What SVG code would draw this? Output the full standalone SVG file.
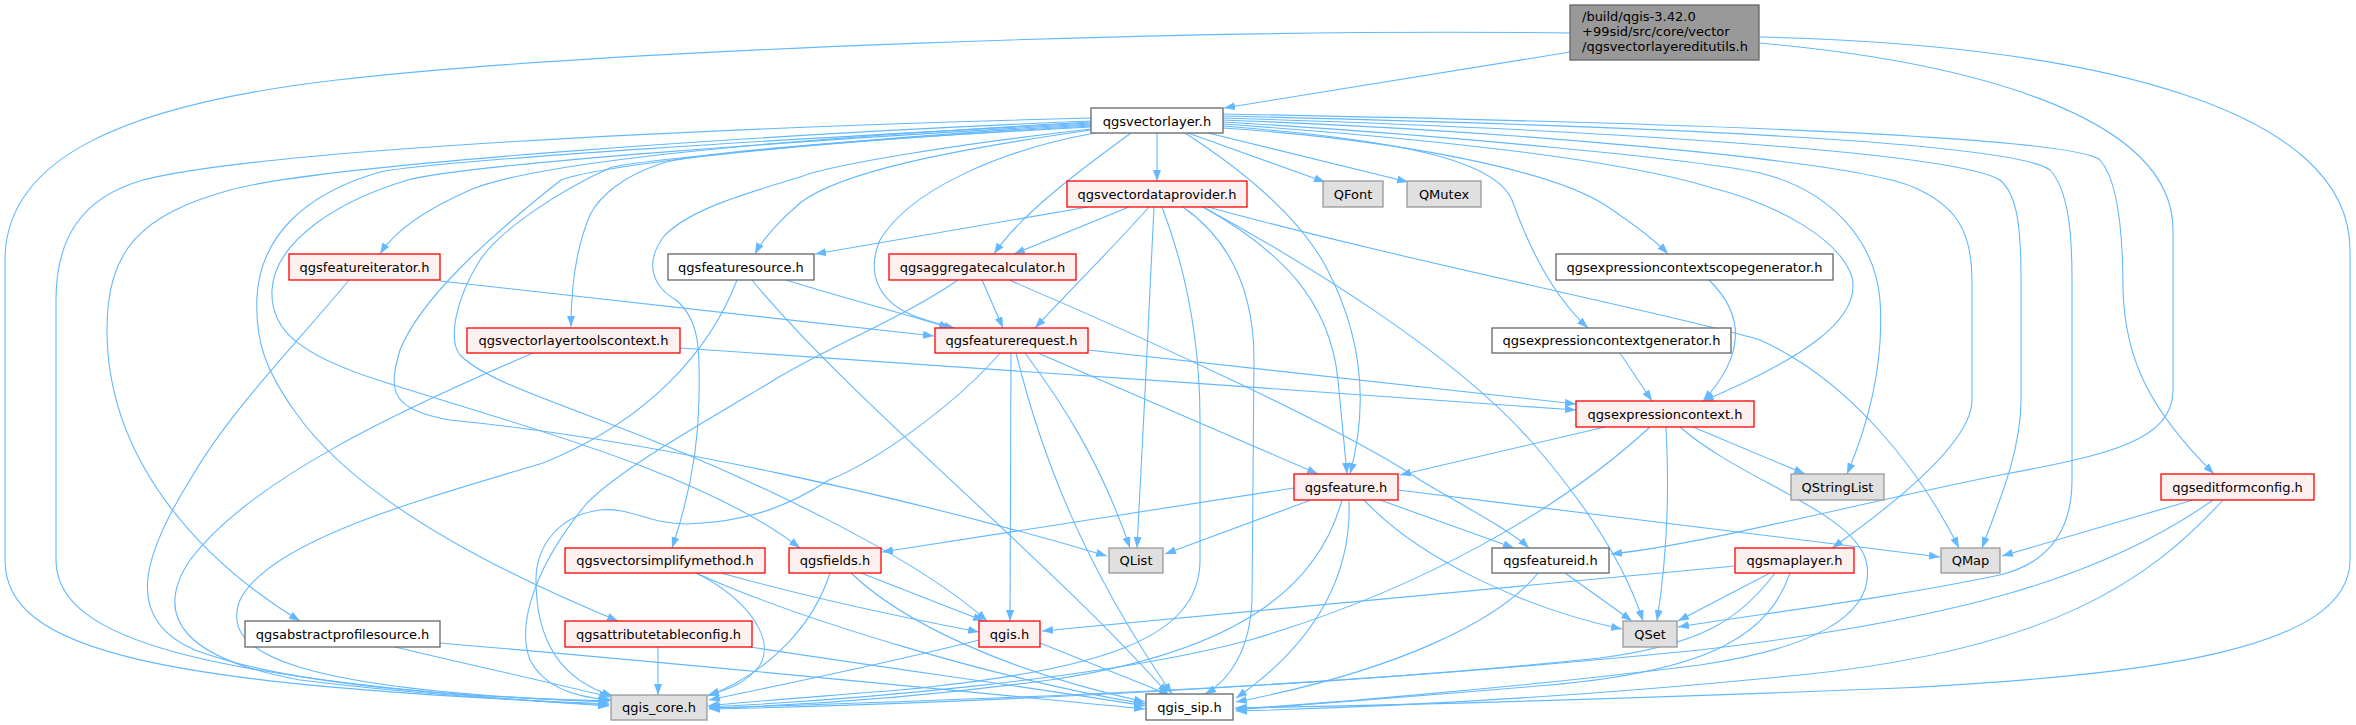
<svg xmlns="http://www.w3.org/2000/svg" width="2356" height="725" viewBox="0 0 2356 725">
<defs>
<marker id="arr" viewBox="0 0 11 8" refX="11" refY="4" markerWidth="11" markerHeight="8" orient="auto" markerUnits="userSpaceOnUse">
<path d="M0,0 L11,4 L0,8 z" fill="#63b8ff"/>
</marker>
</defs>
<style>
.e{fill:none;stroke:#63b8ff;stroke-width:1.1;marker-end:url(#arr)}
rect{stroke-width:1.3}
.red rect{fill:#fff0f0;stroke:#ff0000}
.ext rect{fill:#e0e0e0;stroke:#999999}
.std rect{fill:#ffffff;stroke:#666666}
.root rect{fill:#999999;stroke:#666666}
text{font-family:"DejaVu Sans","Liberation Sans",sans-serif;font-size:13px;fill:#000000}
.c text{text-anchor:middle}
</style>
<rect x="0" y="0" width="2356" height="725" fill="#ffffff" stroke="none"/>
<g id="edges">
<path class="e" d="M1570,52 L1224,108"/>
<path class="e" d="M1570,33 C1200,28 600,50 337,80 C120,105 5,160 5,260 L5,560 C5,650 150,685 609,704"/>
<path class="e" d="M1759,43 C1950,60 2173,110 2173,230 L2173,390 C2173,440 2110,455 2000,475 C1850,505 1700,545 1611,554"/>
<path class="e" d="M1759,37 C2100,45 2350,110 2350,250 L2350,560 C2350,650 2150,675 1900,688 C1600,700 1350,706 1235,708"/>
<path class="e" d="M1091,118 C700,128 260,150 143,180 C80,198 56,240 56,300 L56,560 C56,640 200,680 609,706"/>
<path class="e" d="M1091,121 C750,135 320,165 230,190 C140,215 107,250 107,330 C107,460 200,560 300,621"/>
<path class="e" d="M1091,122 C800,138 540,160 470,190 C420,212 392,235 380,254"/>
<path class="e" d="M1091,123 C800,138 440,160 380,172 C300,195 260,240 257,297 C255,340 265,370 296,413 C350,490 470,560 618,621"/>
<path class="e" d="M1091,124 C800,140 460,165 408,180 C340,200 275,240 272,290 C270,330 300,355 378,380 C500,420 700,470 800,548"/>
<path class="e" d="M1091,125 C820,140 600,165 561,180 C485,240 420,300 400,350 C388,390 390,410 450,420 C650,440 900,495 1107,556"/>
<path class="e" d="M1091,126 C850,140 660,158 612,167 C560,190 500,230 480,260 C455,300 448,340 460,355 C480,375 520,390 600,420 C760,480 920,560 987,621"/>
<path class="e" d="M1091,127 C850,140 700,152 663,163 C625,175 600,195 590,215 C575,250 571,290 571,327"/>
<path class="e" d="M1091,129 C950,145 830,165 800,177 C740,195 690,210 665,235 C645,260 650,285 676,300 C700,320 700,350 699,400 C698,460 685,510 672,548"/>
<path class="e" d="M1091,130 C950,150 840,172 800,203 C780,220 762,240 755,254"/>
<path class="e" d="M1095,133 C1000,150 910,190 880,240 C865,275 880,305 920,318 C935,323 945,326 955,328"/>
<path class="e" d="M1131,133 C1080,170 1020,215 994,254"/>
<path class="e" d="M1157,133 L1157,181"/>
<path class="e" d="M1188,133 L1325,182"/>
<path class="e" d="M1208,133 L1408,182"/>
<path class="e" d="M1185,133 C1250,175 1300,220 1325,265 C1360,330 1370,400 1350,474"/>
<path class="e" d="M1223,128 C1400,140 1550,170 1605,205 C1635,225 1655,240 1668,254"/>
<path class="e" d="M1223,126 C1400,140 1495,160 1512,200 C1528,245 1552,295 1588,328"/>
<path class="e" d="M1223,124 C1450,140 1620,160 1709,187 C1780,205 1840,240 1852,277 C1862,320 1800,360 1703,401"/>
<path class="e" d="M1223,122 C1450,135 1700,160 1760,173 C1830,190 1875,240 1880,300 C1884,360 1870,420 1847,474"/>
<path class="e" d="M1223,120 C1500,130 1850,160 1913,187 C1955,205 1972,230 1972,280 L1972,400 C1972,440 1900,500 1832,548"/>
<path class="e" d="M1223,118 C1550,128 1950,150 2000,180 C2018,195 2021,230 2021,280 L2021,400 C2021,450 2000,500 1982,548"/>
<path class="e" d="M1223,116 C1600,125 2010,140 2050,170 C2068,190 2072,230 2072,280 L2072,480 C2072,540 2040,565 2000,575 C1880,600 1750,615 1678,627"/>
<path class="e" d="M1223,114 C1650,122 2070,135 2100,160 C2118,180 2123,230 2123,290 C2125,360 2150,410 2214,474"/>
<path class="e" d="M1088,207 L815,254"/>
<path class="e" d="M1129,207 L1014,254"/>
<path class="e" d="M1149,207 C1120,240 1080,280 1035,328"/>
<path class="e" d="M1154,207 C1150,300 1142,450 1137,548"/>
<path class="e" d="M1162,207 C1190,280 1200,350 1200,420 L1200,560 C1200,640 1100,670 900,690 C800,698 730,703 708,706"/>
<path class="e" d="M1183,207 C1230,240 1254,290 1254,360 L1252,600 C1250,650 1230,680 1205,694"/>
<path class="e" d="M1203,207 C1280,250 1330,300 1338,380 C1342,420 1345,450 1347,474"/>
<path class="e" d="M1203,207 C1300,260 1450,350 1530,440 C1600,520 1630,580 1643,621"/>
<path class="e" d="M1208,207 C1400,260 1700,320 1760,340 C1850,380 1920,470 1959,548"/>
<path class="e" d="M982,280 L1003,328"/>
<path class="e" d="M958,280 C900,320 820,350 766,385 C690,430 620,470 587,503 C540,560 515,620 530,660 C545,690 580,698 612,700"/>
<path class="e" d="M1009,280 C1150,340 1346,430 1420,480 C1470,510 1510,530 1529,548"/>
<path class="e" d="M1088,350 L1576,404"/>
<path class="e" d="M1038,353 L1318,474"/>
<path class="e" d="M1025,353 C1060,400 1100,460 1130,548"/>
<path class="e" d="M1011,353 L1010,621"/>
<path class="e" d="M1016,353 C1040,450 1080,560 1172,694"/>
<path class="e" d="M1000,353 C960,400 880,460 829,480 C790,505 750,522 686,524 C650,524 630,507 600,510 C560,515 536,545 536,580 C536,640 560,680 613,696"/>
<path class="e" d="M1605,427 L1400,475"/>
<path class="e" d="M1693,427 L1805,474"/>
<path class="e" d="M1666,427 C1670,500 1665,570 1657,621"/>
<path class="e" d="M1680,427 C1740,480 1850,510 1866,560 C1880,620 1800,650 1700,665 C1500,690 1300,705 1236,709"/>
<path class="e" d="M1650,427 C1560,510 1420,590 1250,640 C1100,680 850,700 709,707"/>
<path class="e" d="M1294,488 L882,552"/>
<path class="e" d="M1311,500 L1165,554"/>
<path class="e" d="M1380,500 L1514,548"/>
<path class="e" d="M1398,490 L1940,557"/>
<path class="e" d="M1364,500 C1420,560 1530,610 1622,629"/>
<path class="e" d="M1342,500 C1320,580 1250,650 1050,680 C900,700 780,706 709,708"/>
<path class="e" d="M1349,500 C1352,570 1320,640 1236,698"/>
<path class="e" d="M680,348 C900,363 1300,390 1576,410"/>
<path class="e" d="M533,353 C400,410 250,480 190,560 C150,620 190,660 300,680 C420,695 520,700 609,705"/>
<path class="e" d="M349,280 C300,340 230,410 190,480 C140,560 125,620 195,650 C300,690 500,698 609,701"/>
<path class="e" d="M440,281 L934,336"/>
<path class="e" d="M786,280 C850,300 920,318 950,328"/>
<path class="e" d="M752,280 C850,400 1050,560 1168,694"/>
<path class="e" d="M737,280 C710,350 650,420 543,463 C420,500 270,540 240,600 C220,650 280,690 609,702"/>
<path class="e" d="M2193,500 L2002,556"/>
<path class="e" d="M2213,500 C2100,580 1950,620 1700,650 C1300,690 900,705 709,709"/>
<path class="e" d="M2223,500 C2150,580 2050,650 1800,675 C1550,700 1350,708 1236,711"/>
<path class="e" d="M1735,566 L1042,631"/>
<path class="e" d="M1770,573 L1678,621"/>
<path class="e" d="M1775,573 C1740,620 1700,645 1600,658 C1300,690 900,702 709,708"/>
<path class="e" d="M1790,573 C1770,630 1720,670 1550,685 C1400,698 1300,705 1236,710"/>
<path class="e" d="M1565,573 L1632,621"/>
<path class="e" d="M1538,573 C1500,620 1400,670 1236,702"/>
<path class="e" d="M979,640 C880,665 780,685 709,700"/>
<path class="e" d="M1040,643 L1170,695"/>
<path class="e" d="M861,573 L984,621"/>
<path class="e" d="M851,573 C900,620 1000,670 1145,702"/>
<path class="e" d="M830,573 C815,620 775,670 708,696"/>
<path class="e" d="M721,573 C800,595 900,617 979,632"/>
<path class="e" d="M696,573 C800,620 1000,680 1145,704"/>
<path class="e" d="M696,573 C750,600 775,640 760,665 C745,685 725,690 708,695"/>
<path class="e" d="M658,647 L658,695"/>
<path class="e" d="M750,647 C900,670 1050,690 1145,706"/>
<path class="e" d="M395,647 C470,665 540,680 610,697"/>
<path class="e" d="M440,643 C700,665 1000,695 1145,709"/>
<path class="e" d="M1709,280 C1740,310 1750,350 1703,401"/>
<path class="e" d="M1620,353 L1652,401"/>
</g>
<g id="node-root" class="root"><rect x="1570" y="5" width="189" height="55"/><text x="1582" y="21">/build/qgis-3.42.0</text><text x="1582" y="36">+99sid/src/core/vector</text><text x="1582" y="51">/qgsvectorlayereditutils.h</text></g>
<g id="node-qgsvectorlayer" class="std c"><rect x="1091" y="108" width="132" height="25"/><text x="1157" y="125.5">qgsvectorlayer.h</text></g>
<g id="node-qgsvectordataprovider" class="red c"><rect x="1067" y="181" width="180" height="26"/><text x="1157" y="198.5">qgsvectordataprovider.h</text></g>
<g id="node-QFont" class="ext c"><rect x="1323" y="181" width="60" height="26"/><text x="1353" y="198.5">QFont</text></g>
<g id="node-QMutex" class="ext c"><rect x="1407" y="181" width="74" height="26"/><text x="1444" y="198.5">QMutex</text></g>
<g id="node-qgsfeatureiterator" class="red c"><rect x="289" y="254" width="151" height="26"/><text x="364.5" y="271.5">qgsfeatureiterator.h</text></g>
<g id="node-qgsfeaturesource" class="std c"><rect x="668" y="254" width="146" height="26"/><text x="741" y="271.5">qgsfeaturesource.h</text></g>
<g id="node-qgsaggregatecalculator" class="red c"><rect x="889" y="254" width="187" height="26"/><text x="982.5" y="271.5">qgsaggregatecalculator.h</text></g>
<g id="node-qgsexpressioncontextscopegenerator" class="std c"><rect x="1556" y="254" width="277" height="26"/><text x="1694.5" y="271.5">qgsexpressioncontextscopegenerator.h</text></g>
<g id="node-qgsvectorlayertoolscontext" class="red c"><rect x="467" y="328" width="213" height="25"/><text x="573.5" y="345">qgsvectorlayertoolscontext.h</text></g>
<g id="node-qgsfeaturerequest" class="red c"><rect x="935" y="328" width="153" height="25"/><text x="1011.5" y="345">qgsfeaturerequest.h</text></g>
<g id="node-qgsexpressioncontextgenerator" class="std c"><rect x="1492" y="328" width="239" height="25"/><text x="1611.5" y="345">qgsexpressioncontextgenerator.h</text></g>
<g id="node-qgsexpressioncontext" class="red c"><rect x="1576" y="401" width="178" height="26"/><text x="1665" y="418.5">qgsexpressioncontext.h</text></g>
<g id="node-qgsfeature" class="red c"><rect x="1294" y="474" width="104" height="26"/><text x="1346" y="491.5">qgsfeature.h</text></g>
<g id="node-QStringList" class="ext c"><rect x="1791" y="474" width="93" height="26"/><text x="1837.5" y="491.5">QStringList</text></g>
<g id="node-qgseditformconfig" class="red c"><rect x="2161" y="474" width="153" height="26"/><text x="2237.5" y="491.5">qgseditformconfig.h</text></g>
<g id="node-qgsvectorsimplifymethod" class="red c"><rect x="565" y="548" width="200" height="25"/><text x="665" y="565">qgsvectorsimplifymethod.h</text></g>
<g id="node-qgsfields" class="red c"><rect x="789" y="548" width="92" height="25"/><text x="835" y="565">qgsfields.h</text></g>
<g id="node-QList" class="ext c"><rect x="1109" y="548" width="54" height="25"/><text x="1136" y="565">QList</text></g>
<g id="node-qgsfeatureid" class="std c"><rect x="1492" y="548" width="117" height="25"/><text x="1550.5" y="565">qgsfeatureid.h</text></g>
<g id="node-qgsmaplayer" class="red c"><rect x="1735" y="548" width="119" height="25"/><text x="1794.5" y="565">qgsmaplayer.h</text></g>
<g id="node-QMap" class="ext c"><rect x="1941" y="548" width="59" height="25"/><text x="1970.5" y="565">QMap</text></g>
<g id="node-qgsabstractprofilesource" class="std c"><rect x="245" y="621" width="195" height="26"/><text x="342.5" y="638.5">qgsabstractprofilesource.h</text></g>
<g id="node-qgsattributetableconfig" class="red c"><rect x="565" y="621" width="187" height="26"/><text x="658.5" y="638.5">qgsattributetableconfig.h</text></g>
<g id="node-qgis" class="red c"><rect x="979" y="621" width="61" height="26"/><text x="1009.5" y="638.5">qgis.h</text></g>
<g id="node-QSet" class="ext c"><rect x="1623" y="621" width="54" height="26"/><text x="1650" y="638.5">QSet</text></g>
<g id="node-qgis_core" class="ext c"><rect x="611" y="695" width="96" height="25"/><text x="659" y="712">qgis_core.h</text></g>
<g id="node-qgis_sip" class="std c"><rect x="1146" y="694" width="87" height="26"/><text x="1189.5" y="711.5">qgis_sip.h</text></g>
</svg>
